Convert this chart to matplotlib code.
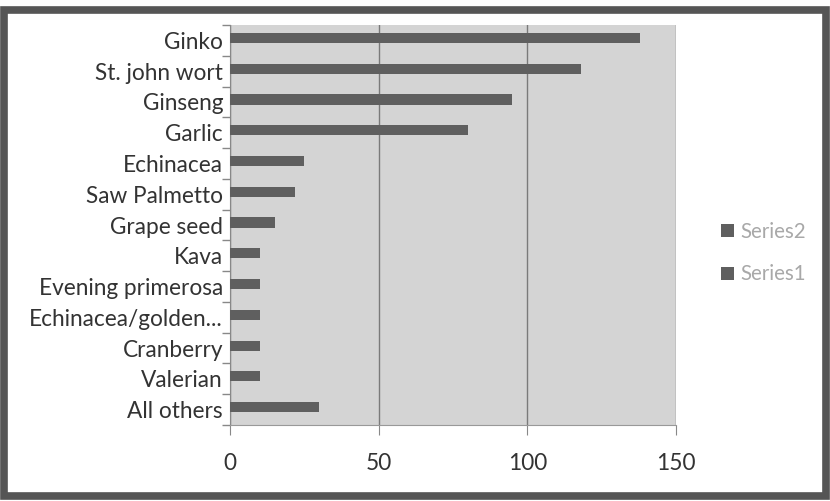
import matplotlib.pyplot as plt
import numpy as np
from matplotlib.patches import Rectangle

plt.rcParams['font.family'] = ['Lato', 'DejaVu Sans']

herbs = ['Ginko', 'St. john wort', 'Ginseng', 'Garlic', 'Echinacea', 'Saw Palmetto',
         'Grape seed', 'Kava', 'Evening primerosa', 'Echinacea/golden...',
         'Cranberry', 'Valerian', 'All others']
series1 = [138, 118, 95, 80, 25, 22, 15, 10, 10, 10, 10, 10, 30]
series2 = [0, 0, 0, 0, 0, 0, 0, 0, 0, 0, 0, 0, 0]
xticks = [0, 50, 100, 150]

bar_col = '#5f5f5f'
fs = 16.3

fig = plt.figure(figsize=(8.3, 5.01), dpi=100)
ax = fig.add_axes([0.2771, 0.1517, 0.5374, 0.7983])
ax.set_facecolor('#d4d4d4')

y = np.arange(len(herbs))[::-1]
ax.barh(y + 0.08, series1, height=0.33, color=bar_col, label='Series1', zorder=3)
ax.barh(y + 0.4, series2, height=0.33, color=bar_col, label='Series2', zorder=3)

ax.set_xlim(0, 150)
ax.set_ylim(-0.5, len(herbs) - 0.5)
ax.set_xticks(xticks)
ax.set_yticks(y)
ax.set_yticklabels(herbs)
ax.set_yticks(np.arange(len(herbs) + 1) - 0.5, minor=True)
ax.tick_params(axis='y', which='major', length=0, pad=5, labelsize=fs, labelcolor='#333333')
ax.tick_params(axis='y', which='minor', length=6, color='#888888', width=1)
ax.tick_params(axis='x', length=7, color='#888888', pad=13, labelsize=fs, labelcolor='#333333')
ax.grid(axis='x', color='#7a7a7a', linewidth=1, zorder=1)

for s in ['top', 'right']:
    ax.spines[s].set_visible(False)
ax.spines['left'].set_color('#888888')
ax.spines['bottom'].set_color('#999999')

handles, labels = ax.get_legend_handles_labels()
leg = ax.legend(handles[::-1], labels[::-1], loc='center left', bbox_to_anchor=(1.06, 0.43),
                frameon=False, fontsize=fs - 1.5, handlelength=0.6, handleheight=0.6,
                labelspacing=1.1, handletextpad=0.35)
for t in leg.get_texts():
    t.set_color('#a8a8a8')

fig.patches.append(Rectangle((0.005, 0.01), 0.99, 0.97, transform=fig.transFigure,
                             fill=False, edgecolor='#555555', linewidth=5.5))

fig.savefig('out.png', dpi=100)
